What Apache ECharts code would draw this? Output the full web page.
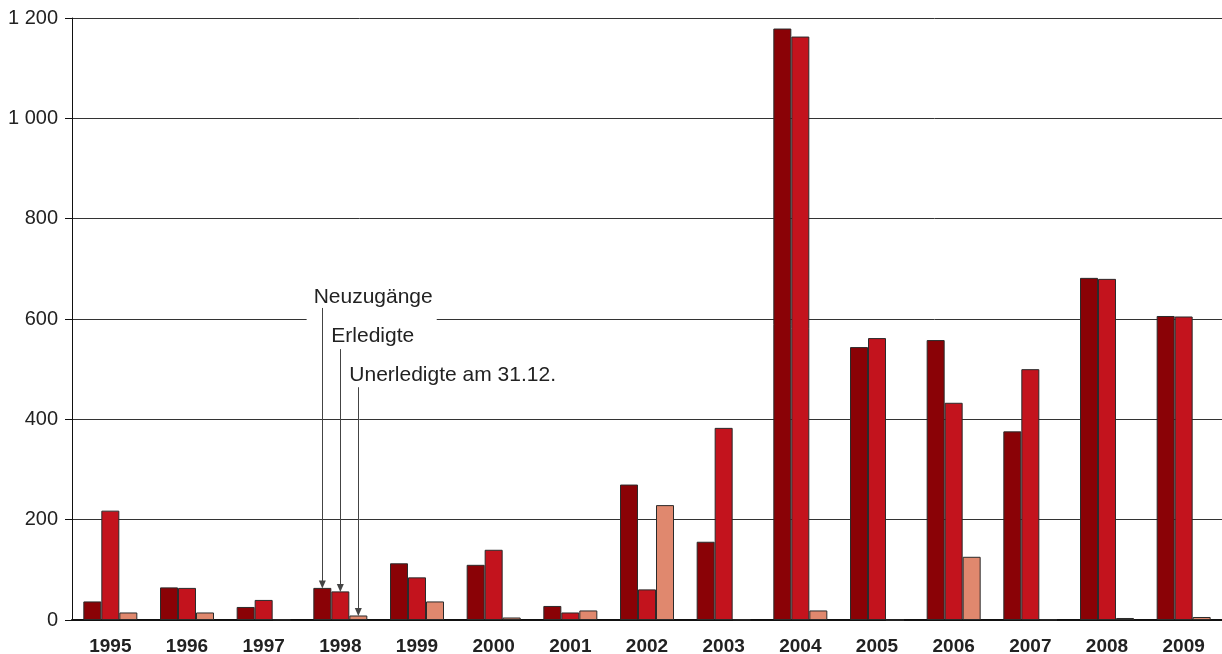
<!DOCTYPE html>
<html>
<head>
<meta charset="utf-8">
<script src="https://cdn.jsdelivr.net/npm/echarts@6/dist/echarts.min.js"></script>
<style>
  html, body { margin: 0; padding: 0; background: #fff; }
  #chart { width: 1222px; height: 654px; }
</style>
</head>
<body>
<div id="chart"></div>
<script>
// Jahre (Kategorien)
const years = ['1995', '1996', '1997', '1998', '1999', '2000', '2001', '2002',
  '2003', '2004', '2005', '2006', '2007', '2008', '2009']

// Werte
const neuzugaenge = [37, 65, 26, 64, 113, 110, 28, 270, 156, 1179, 544, 558, 376, 682, 606]
const erledigte = [218, 64, 40, 57, 85, 140, 15, 61, 383, 1163, 562, 433, 500, 680, 605]
const unerledigte = [15, 15, 1, 9, 37, 5, 19, 229, 1, 19, 0, 126, 1, 4, 6]

const seriesNames = ['Neuzugänge', 'Erledigte', 'Unerledigte am 31.12.']
const colors = ['#8a0206', '#c3131d', '#e0886e']

// Beschriftung mit Pfeilen an 1998: [Textwert, Pfeilanfang, Pfeilende]
const annoYear = '1998'
const annoText = [644, 565, 488]
const annoStart = [622, 540, 464]
const annoEnd = [71, 64, 16]

const FONT = 'Liberation Sans, Arial, Helvetica, sans-serif'

const chart = echarts.init(document.getElementById('chart'))

// Tausendertrennzeichen als Leerzeichen
const fmtNum = (v) => {
  if (v >= 1000) return Math.floor(v / 1000) + ' ' + String(v % 1000).padStart(3, '0')
  return String(v)
}

const makeSeries = (idx, data) => ({
  name: seriesNames[idx],
  type: 'bar',
  data: data,
  barWidth: 18,
  barGap: '0%',
  itemStyle: { color: colors[idx], borderColor: '#2b2b2b', borderWidth: 1 },
  markPoint: {
    z: 4,
    symbol: 'rect',
    symbolSize: 0,
    data: [{ coord: [annoYear, annoText[idx]] }],
    label: {
      show: true,
      position: 'inside',
      align: 'left',
      verticalAlign: 'middle',
      formatter: '{t|' + seriesNames[idx] + '}',
      offset: idx === 0 ? [-15.7, 6] : [-9, 0],
      rich: {
        t: {
          fontFamily: FONT,
          fontSize: 21,
          lineHeight: 24,
          color: '#222',
          // weißer Kasten unterbricht die Gitterlinie bei 600
          backgroundColor: idx === 0 ? '#ffffff' : 'transparent',
          padding: idx === 0 ? [2, 4, 14, 7] : 0,
        },
      },
    },
  },
  markLine: {
    z: 5,
    silent: true,
    symbol: ['none', 'triangle'],
    symbolSize: [7, 8],
    label: { show: false },
    lineStyle: { color: '#444', width: 1, type: 'solid' },
    data: [[{ coord: [annoYear, annoStart[idx]] }, { coord: [annoYear, annoEnd[idx]] }]],
  },
})

const option = {
  animation: false,
  grid: { left: 72, right: 0, top: 18, bottom: 34, outerBoundsMode: 'none' },
  xAxis: {
    type: 'category',
    data: years,
    axisLine: { lineStyle: { color: '#111', width: 2 } },
    axisTick: { show: false },
    axisLabel: {
      margin: 17,
      fontFamily: FONT,
      fontSize: 19,
      fontWeight: 'bold',
      color: '#222',
    },
  },
  yAxis: {
    type: 'value',
    min: 0,
    max: 1200,
    interval: 200,
    axisLine: { show: true, lineStyle: { color: '#111', width: 1 } },
    axisTick: { show: true, length: 7, lineStyle: { color: '#111' } },
    splitLine: { lineStyle: { color: '#333', width: 1 } },
    axisLabel: {
      margin: 14,
      formatter: fmtNum,
      fontFamily: FONT,
      fontSize: 20,
      color: '#222',
    },
  },
  series: [
    makeSeries(0, neuzugaenge),
    makeSeries(1, erledigte),
    makeSeries(2, unerledigte),
  ],
}

chart.setOption(option)
</script>
</body>
</html>
